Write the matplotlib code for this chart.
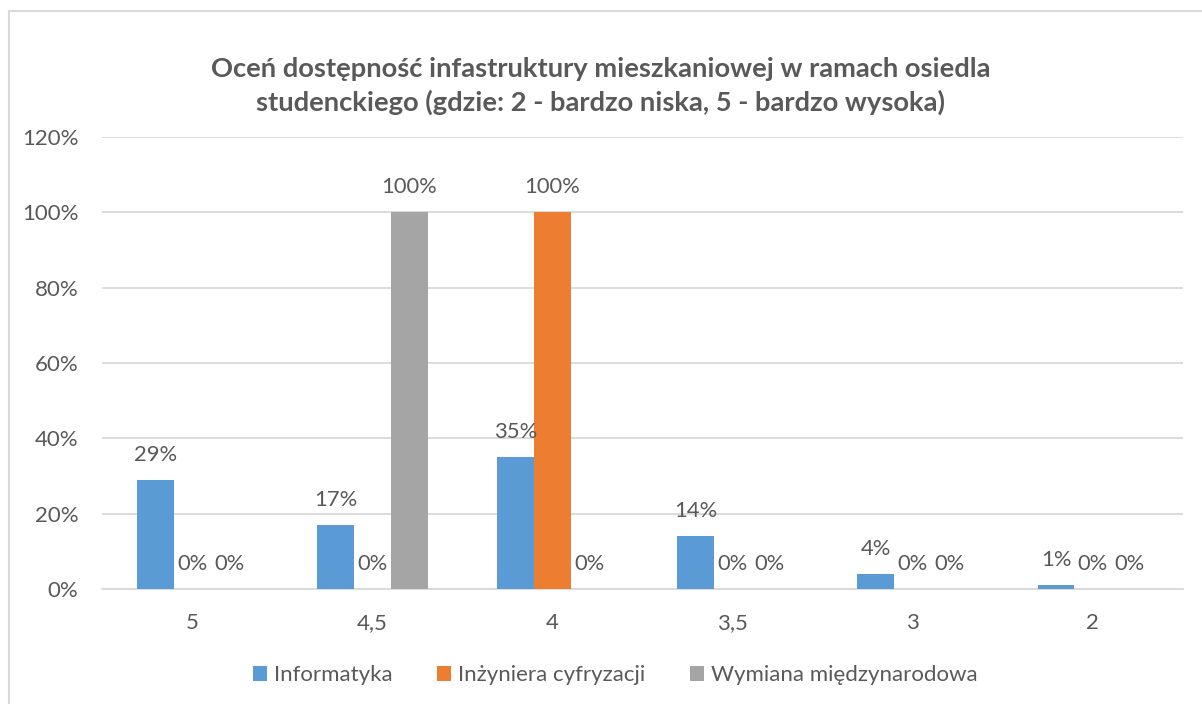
import matplotlib
matplotlib.use("Agg")
import matplotlib.pyplot as plt
import numpy as np

categories = ["5", "4,5", "4", "3,5", "3", "2"]
series_names = ["Informatyka", "Inżyniera cyfryzacji", "Wymiana międzynarodowa"]
informatyka = [29, 17, 35, 14, 4, 1]
inzyniera = [0, 0, 100, 0, 0, 0]
wymiana = [0, 100, 0, 0, 0, 0]
y_ticks = [0, 20, 40, 60, 80, 100, 120]
title = "Oceń dostępność infastruktury mieszkaniowej w ramach osiedla\nstudenckiego (gdzie: 2 - bardzo niska, 5 - bardzo wysoka)"

colors = ["#5B9BD5", "#ED7D31", "#A5A5A5"]
text_color = "#595959"
plt.rcParams['font.family'] = ['Lato', 'DejaVu Sans']

fig = plt.figure(figsize=(12.02, 7.04), dpi=100)
ax = fig.add_axes([102/1202, 1-589/704, (1183-102)/1202, (589-137)/704])

x = np.arange(len(categories))
w = 0.205
all_series = [informatyka, inzyniera, wymiana]
for i, (vals, name, c) in enumerate(zip(all_series, series_names, colors)):
    pos = x + (i - 1) * w
    ax.bar(pos, vals, width=w, color=c, label=name, zorder=3)
    for p, v in zip(pos, vals):
        ax.annotate(f"{v}%", (p, v), xytext=(0, 18), textcoords="offset points",
                    ha="center", va="center", fontsize=15.8, color=text_color, zorder=4)

ax.set_xlim(-0.5, len(categories) - 0.5)
ax.set_ylim(0, 120)
ax.set_yticks(y_ticks)
ax.set_yticklabels([f"{t}%" for t in y_ticks])
ax.set_xticks(x)
ax.set_xticklabels(categories)
ax.tick_params(axis="both", length=0, labelsize=16, labelcolor=text_color)
ax.tick_params(axis="y", pad=17)
ax.tick_params(axis="x", pad=17)
ax.grid(axis="y", color="#D9D9D9", linewidth=1.3, zorder=0)
for s in ["top", "right", "left"]:
    ax.spines[s].set_visible(False)
ax.spines["bottom"].set_color("#D9D9D9")
ax.spines["bottom"].set_linewidth(1.3)

fig.text(0.5, 1-86/704, title, ha="center", va="center", fontsize=19.7, fontweight="bold",
         color=text_color, linespacing=1.38)

fig.legend(loc="center", bbox_to_anchor=(615/1202, 1-675/704), ncol=3, frameon=False,
           fontsize=16, handlelength=0.65, handleheight=0.65, handletextpad=0.3,
           columnspacing=2.0, labelcolor=text_color)

# chart border (left and top)
fig.add_artist(plt.Line2D([9/1202, 9/1202], [0, 1-11/704], color="#D9D9D9", linewidth=1.5))
fig.add_artist(plt.Line2D([9/1202, 1], [1-11/704, 1-11/704], color="#D9D9D9", linewidth=1.5))

fig.savefig("out.png", dpi=100)
